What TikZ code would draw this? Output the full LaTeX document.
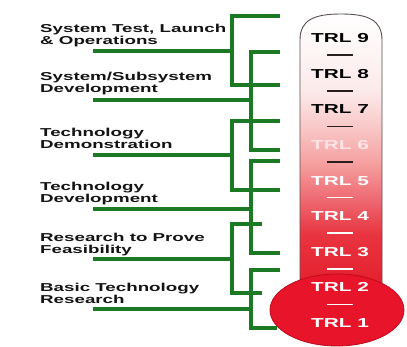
\documentclass[tikz,border=0pt]{standalone}
\usepackage{fontspec}
\usepackage{graphicx}
\setmainfont{Liberation Sans}
\usetikzlibrary{calc}
\definecolor{brgreen}{RGB}{28,122,36}
\definecolor{labtext}{RGB}{20,20,20}
\definecolor{tred}{RGB}{228,30,44}
\definecolor{tred2}{RGB}{232,52,63}
\definecolor{tsalmon}{RGB}{238,106,114}
\definecolor{tpink}{RGB}{245,160,160}
\definecolor{tlpink}{RGB}{249,200,200}
\definecolor{tvlpink}{RGB}{252,234,234}
\definecolor{bulbred}{RGB}{232,20,42}
\definecolor{bulbedge}{RGB}{190,10,30}
\definecolor{tubeline}{RGB}{90,80,80}
\definecolor{darkdash}{RGB}{40,30,30}
\definecolor{paletxt}{RGB}{252,228,228}
\pgfdeclareverticalshading{tubeshade}{100bp}{color(0bp)=(tred); color(25bp)=(tred); color(35bp)=(tred2); color(41.5bp)=(tsalmon); color(48bp)=(tpink); color(54.6bp)=(tlpink); color(61bp)=(tvlpink); color(75bp)=(white); color(100bp)=(white)}
\newcommand\widetext[1]{\scalebox{1.6}[1]{#1}}
\newcommand\lablines[2]{\scalebox{1.63}[1]{\begin{tabular}[t]{@{}l@{}}#1\\#2\end{tabular}}}
\begin{document}
\begin{tikzpicture}[x=1pt,y=-1pt,
  br/.style={draw=brgreen, line width=3.2pt, line join=miter},
  trl/.style={inner sep=0pt, font=\fontsize{13}{13}\selectfont\bfseries},
  lab/.style={inner sep=0pt, anchor=base west, text=labtext, font=\fontsize{11.5}{11}\selectfont\bfseries},
  dashline/.style={line width=1.6pt}]
\useasboundingbox (0,0) rectangle (407,347);
\fill[white] (0,0) rectangle (407,347);
% tube
\shade[shading=tubeshade] (300,290) -- (300,40) .. controls (300,20) and (314,14) .. (341,14) .. controls (368,14) and (382,20) .. (382,40) -- (382,290) -- cycle;
\draw[tubeline, line width=0.9pt] (300,290) -- (300,40) .. controls (300,20) and (314,14) .. (341,14) .. controls (368,14) and (382,20) .. (382,40) -- (382,290);
% bulb
\fill[bulbred, draw=bulbedge, line width=0.8pt] (337,310) ellipse [x radius=67pt, y radius=36pt];
% TRL labels
\node[trl, text=black] (t9) at (340,38.2) {\widetext{TRL 9}};
\node[trl, text=black] (t8) at (340,73.8) {\widetext{TRL 8}};
\node[trl, text=black] (t7) at (340,109.4) {\widetext{TRL 7}};
\node[trl, text=paletxt] (t6) at (340,145) {\widetext{TRL 6}};
\node[trl, text=white] (t5) at (340,180.6) {\widetext{TRL 5}};
\node[trl, text=white] (t4) at (340,216.2) {\widetext{TRL 4}};
\node[trl, text=white] (t3) at (340,251.8) {\widetext{TRL 3}};
\node[trl, text=white] (t2) at (340,287.4) {\widetext{TRL 2}};
\node[trl, text=white] (t1) at (340,323) {\widetext{TRL 1}};
% dashes
\foreach \n in {9,8,7,6}{\draw[dashline, darkdash] ($(t\n)+(-13,17)$) -- ($(t\n)+(13,17)$);}
\foreach \n in {5,4,3,2}{\draw[dashline, white] ($(t\n)+(-13,17)$) -- ($(t\n)+(13,17)$);}
% phase labels
\node[lab] (l1) at (40,33) {\lablines{System Test, Launch}{\& Operations}};
\node[lab] (l2) at (40,81) {\lablines{System/Subsystem}{Development}};
\node[lab] (l3) at (40,137) {\lablines{Technology}{Demonstration}};
\node[lab] (l4) at (40,191) {\lablines{Technology}{Development}};
\node[lab] (l5) at (40,242) {\lablines{Research to Prove}{Feasibility}};
\node[lab] (l6) at (40,292) {\lablines{Basic Technology}{Research}};
% stems
\coordinate (s1) at (93,51);  \coordinate (b1) at (232,51);
\coordinate (s2) at (93,100); \coordinate (b2) at (251,100);
\coordinate (s3) at (93,155); \coordinate (b3) at (232,155);
\coordinate (s4) at (93,209); \coordinate (b4) at (251,209);
\coordinate (s5) at (93,259); \coordinate (b5) at (232,259);
\coordinate (s6) at (93,309); \coordinate (b6) at (251,309);
\foreach \i in {1,...,6}{\draw[br] (s\i) -- (b\i);}
% brackets
\draw[br] (280,16) -- (232,16) -- (232,85) -- (280,85);
\draw[br] (280,52) -- (251,52) -- (251,150) -- (280,150);
\draw[br] (280,121) -- (232,121) -- (232,190) -- (280,190);
\draw[br] (280,161) -- (251,161) -- (251,253) -- (280,253);
\draw[br] (262,224) -- (232,224) -- (232,293) -- (262,293);
\draw[br] (280,270) -- (251,270) -- (251,328) -- (277,328);
\end{tikzpicture}
\end{document}
